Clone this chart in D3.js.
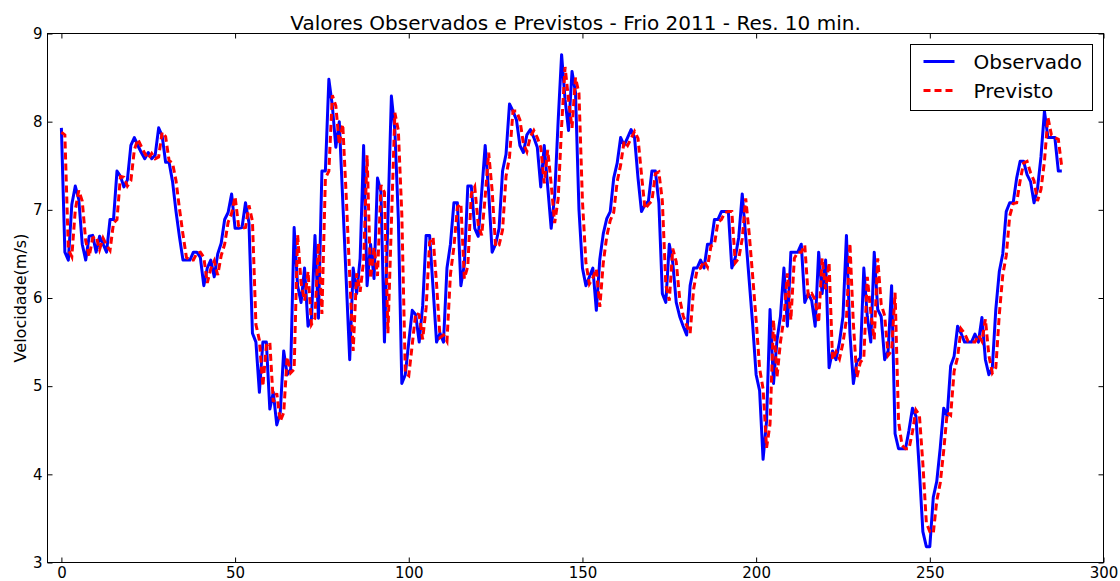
<!DOCTYPE html>
<html>
<head>
<meta charset="utf-8">
<script src="https://cdn.jsdelivr.net/npm/d3@7"></script>
<style>
  body { margin: 0; background: #fff; }
  svg text { font-family: "DejaVu Sans", sans-serif; fill: #000; }
</style>
</head>
<body>
<svg id="chart" width="1120" height="581"></svg>
<script>
// textos do grafico
const titulo = "Valores Observados e Previstos - Frio 2011 - Res. 10 min.";
const rotuloY = "Velocidade(m/s)";
const nomesSeries = ["Observado", "Previsto"];
const xTicks = [0, 50, 100, 150, 200, 250, 300];
const yTicks = [3, 4, 5, 6, 7, 8, 9];

// velocidade observada, um ponto a cada 10 min
const observado = [
  7.93, 6.52, 6.43, 7.06, 7.27, 7.12, 6.61, 6.43, 6.70, 6.71,
  6.52, 6.70, 6.61, 6.52, 6.89, 6.89, 7.44, 7.38, 7.26, 7.34,
  7.73, 7.82, 7.73, 7.65, 7.58, 7.65, 7.58, 7.62, 7.93, 7.84,
  7.54, 7.54, 7.32, 6.98, 6.69, 6.43, 6.43, 6.43, 6.52, 6.52,
  6.46, 6.14, 6.34, 6.43, 6.24, 6.50, 6.62, 6.89, 6.97, 7.18,
  6.79, 6.79, 6.80, 7.08, 6.85, 5.60, 5.50, 4.93, 5.50, 5.50,
  4.74, 4.93, 4.56, 4.70, 5.40, 5.13, 5.19, 6.80, 6.14, 5.95,
  6.34, 5.68, 5.77, 6.71, 5.77, 7.44, 7.44, 8.48, 8.18, 7.71,
  8.00, 7.10, 6.20, 5.30, 6.34, 6.05, 6.45, 7.73, 6.14, 6.61,
  6.22, 7.36, 7.20, 5.50, 6.90, 8.29, 7.90, 6.90, 5.03, 5.13,
  5.50, 5.86, 5.81, 5.50, 5.91, 6.71, 6.71, 6.11, 5.50, 5.60,
  5.50, 6.34, 6.61, 7.08, 7.08, 6.14, 6.38, 7.27, 7.27, 6.79,
  6.70, 7.20, 7.73, 7.20, 6.52, 6.61, 6.79, 7.44, 7.63, 8.20,
  8.12, 8.02, 7.73, 7.65, 7.85, 7.91, 7.82, 7.71, 7.26, 7.73,
  7.26, 6.79, 7.16, 8.00, 8.76, 8.25, 7.90, 8.57, 8.33, 7.00,
  6.34, 6.14, 6.24, 6.34, 5.86, 6.44, 6.73, 6.90, 6.98, 7.36,
  7.53, 7.82, 7.73, 7.82, 7.91, 7.82, 7.36, 6.98, 7.06, 7.10,
  7.44, 7.44, 7.08, 6.05, 5.95, 6.61, 6.40, 5.95, 5.79, 5.68,
  5.58, 6.14, 6.34, 6.34, 6.43, 6.34, 6.61, 6.61, 6.89, 6.89,
  6.98, 6.98, 6.98, 6.34, 6.46, 6.69, 7.18, 6.70, 6.20, 5.70,
  5.13, 4.95, 4.17, 4.60, 5.87, 5.03, 5.52, 5.79, 6.34, 5.68,
  6.52, 6.52, 6.52, 6.61, 5.95, 6.05, 5.97, 5.68, 6.52, 6.05,
  6.43, 5.21, 5.40, 5.30, 5.50, 5.79, 6.71, 5.60, 5.03, 5.28,
  5.32, 6.34, 5.79, 5.50, 6.52, 5.87, 5.79, 5.30, 5.40, 6.14,
  4.46, 4.29, 4.29, 4.29, 4.50, 4.75, 4.66, 4.04, 3.35, 3.18,
  3.18, 3.74, 3.92, 4.30, 4.75, 4.66, 5.23, 5.34, 5.68, 5.60,
  5.50, 5.50, 5.50, 5.59, 5.50, 5.78, 5.30, 5.13, 5.21, 5.87,
  6.30, 6.50, 6.98, 7.08, 7.08, 7.36, 7.55, 7.55, 7.40, 7.32,
  7.08, 7.24, 7.60, 8.12, 7.82, 7.82, 7.82, 7.44, 7.44
];

// velocidade prevista pelo modelo
const previsto = [
  7.88, 7.85, 6.55, 6.47, 7.00, 7.22, 7.10, 6.65, 6.47, 6.68,
  6.70, 6.55, 6.68, 6.60, 6.54, 6.85, 6.89, 7.38, 7.37, 7.27,
  7.33, 7.68, 7.80, 7.72, 7.64, 7.58, 7.64, 7.58, 7.60, 7.88,
  7.83, 7.56, 7.53, 7.33, 7.01, 6.72, 6.46, 6.43, 6.43, 6.51,
  6.52, 6.46, 6.17, 6.33, 6.42, 6.26, 6.48, 6.61, 6.86, 6.96,
  7.15, 6.82, 6.79, 6.80, 7.05, 6.87, 5.70, 5.52, 5.00, 5.46,
  5.50, 4.82, 4.92, 4.60, 4.70, 5.33, 5.15, 5.19, 6.72, 6.17,
  5.97, 6.30, 5.70, 5.77, 6.62, 5.82, 7.36, 7.44, 8.30, 8.18,
  7.74, 7.97, 7.15, 6.25, 5.40, 6.28, 6.07, 6.42, 7.62, 6.22,
  6.57, 6.25, 7.28, 7.20, 5.60, 6.85, 8.10, 7.90, 6.95, 5.15,
  5.12, 5.47, 5.83, 5.81, 5.53, 5.89, 6.63, 6.69, 6.16, 5.55,
  5.58, 5.51, 6.27, 6.58, 7.03, 7.07, 6.22, 6.36, 7.18, 7.26,
  6.83, 6.71, 7.15, 7.65, 7.22, 6.58, 6.60, 6.77, 7.38, 7.60,
  8.12, 8.12, 8.02, 7.75, 7.66, 7.83, 7.90, 7.82, 7.71, 7.30,
  7.68, 7.29, 6.85, 7.12, 7.95, 8.62, 8.25, 7.93, 8.50, 8.32,
  7.10, 6.40, 6.16, 6.23, 6.33, 5.90, 6.40, 6.70, 6.88, 6.97,
  7.32, 7.51, 7.78, 7.73, 7.81, 7.89, 7.81, 7.40, 7.01, 7.06,
  7.10, 7.41, 7.43, 7.10, 6.15, 5.97, 6.56, 6.41, 5.99, 5.80,
  5.69, 5.60, 6.10, 6.32, 6.34, 6.42, 6.35, 6.59, 6.61, 6.86,
  6.89, 6.97, 6.98, 6.98, 6.40, 6.45, 6.67, 7.13, 6.73, 6.25,
  5.75, 5.20, 4.97, 4.30, 4.57, 5.75, 5.10, 5.50, 5.77, 6.28,
  5.75, 6.45, 6.52, 6.52, 6.60, 6.02, 6.05, 5.98, 5.72, 6.45,
  6.10, 6.40, 5.30, 5.39, 5.31, 5.49, 5.76, 6.62, 5.70, 5.10,
  5.27, 5.32, 6.24, 5.84, 5.53, 6.45, 5.93, 5.80, 5.35, 5.40,
  6.06, 4.60, 4.33, 4.29, 4.29, 4.48, 4.73, 4.67, 4.12, 3.45,
  3.35, 3.33, 3.70, 3.90, 4.27, 4.70, 4.67, 5.17, 5.33, 5.65,
  5.60, 5.51, 5.50, 5.50, 5.58, 5.51, 5.76, 5.35, 5.15, 5.21,
  5.81, 6.26, 6.48, 6.93, 7.07, 7.08, 7.33, 7.53, 7.55, 7.42,
  7.33, 7.10, 7.23, 7.55, 8.05, 7.85, 7.82, 7.80, 7.48
];

const cores = ["#0000ff", "#ff0000"];

// area do grafico
const area = { left: 47.5, right: 1103.5, top: 33.5, bottom: 562.5 };

const svg = d3.select("#chart");

const x = d3.scaleLinear().domain([-4, 300]).range([area.left, area.right]);
const y = d3.scaleLinear().domain([3, 9]).range([area.bottom, area.top]);

/*Eixos com marcas para dentro, nos quatro lados*/
function desenhaEixos() {
  const tam = -5;
  svg.append("g")
    .attr("class", "eixo")
    .attr("transform", `translate(0,${area.bottom})`)
    .call(d3.axisBottom(x).tickValues(xTicks).tickSize(tam).tickPadding(5));
  svg.append("g")
    .attr("class", "eixo")
    .attr("transform", `translate(0,${area.top})`)
    .call(d3.axisTop(x).tickValues(xTicks).tickSize(tam).tickFormat(""));
  svg.append("g")
    .attr("class", "eixo")
    .attr("transform", `translate(${area.left},0)`)
    .call(d3.axisLeft(y).tickValues(yTicks).tickSize(tam).tickPadding(5)
      .tickFormat(d3.format("d")));
  svg.append("g")
    .attr("class", "eixo")
    .attr("transform", `translate(${area.right},0)`)
    .call(d3.axisRight(y).tickValues(yTicks).tickSize(tam).tickFormat(""));

  svg.selectAll("g.eixo .domain").remove();
  svg.selectAll("g.eixo line").attr("stroke", "#000").attr("stroke-width", 1);
  svg.selectAll("g.eixo text")
    .attr("font-family", "DejaVu Sans")
    .attr("font-size", 15)
    .attr("fill", "#000");

  svg.append("rect")
    .attr("x", area.left)
    .attr("y", area.top)
    .attr("width", area.right - area.left)
    .attr("height", area.bottom - area.top)
    .attr("fill", "none")
    .attr("stroke", "#000")
    .attr("stroke-width", 1);
}

function desenhaLinhas() {
  const linha = d3.line()
    .x((d, i) => x(i))
    .y(d => y(d));

  svg.append("path")
    .datum(observado)
    .attr("d", linha)
    .attr("fill", "none")
    .attr("stroke", cores[0])
    .attr("stroke-width", 3)
    .attr("stroke-linejoin", "round");

  svg.append("path")
    .datum(previsto)
    .attr("d", linha)
    .attr("fill", "none")
    .attr("stroke", cores[1])
    .attr("stroke-width", 3)
    .attr("stroke-dasharray", "7,4");
}

function desenhaTextos() {
  svg.append("text")
    .attr("x", (area.left + area.right) / 2)
    .attr("y", 30)
    .attr("text-anchor", "middle")
    .attr("font-size", 20)
    .text(titulo);

  svg.append("text")
    .attr("transform", `translate(26,${(area.top + area.bottom) / 2}) rotate(-90)`)
    .attr("text-anchor", "middle")
    .attr("font-size", 16)
    .text(rotuloY);
}

function desenhaLegenda() {
  const leg = svg.append("g").attr("transform", "translate(910.5,44.5)");
  leg.append("rect")
    .attr("width", 182)
    .attr("height", 66)
    .attr("fill", "#fff")
    .attr("stroke", "#000")
    .attr("stroke-width", 1);

  const itens = leg.selectAll("g.item")
    .data(nomesSeries)
    .enter().append("g")
      .attr("class", "item")
      .attr("transform", (d, i) => `translate(0,${17 + i * 29})`);

  itens.append("line")
    .attr("x1", 13).attr("x2", 44)
    .attr("stroke", (d, i) => cores[i])
    .attr("stroke-width", 3)
    .attr("stroke-dasharray", (d, i) => i == 1 ? "7,4" : null);

  itens.append("text")
    .attr("x", 63)
    .attr("dy", "0.35em")
    .attr("font-size", 20)
    .text(d => d);
}

desenhaLinhas();
desenhaEixos();
desenhaTextos();
desenhaLegenda();
</script>
</body>
</html>
